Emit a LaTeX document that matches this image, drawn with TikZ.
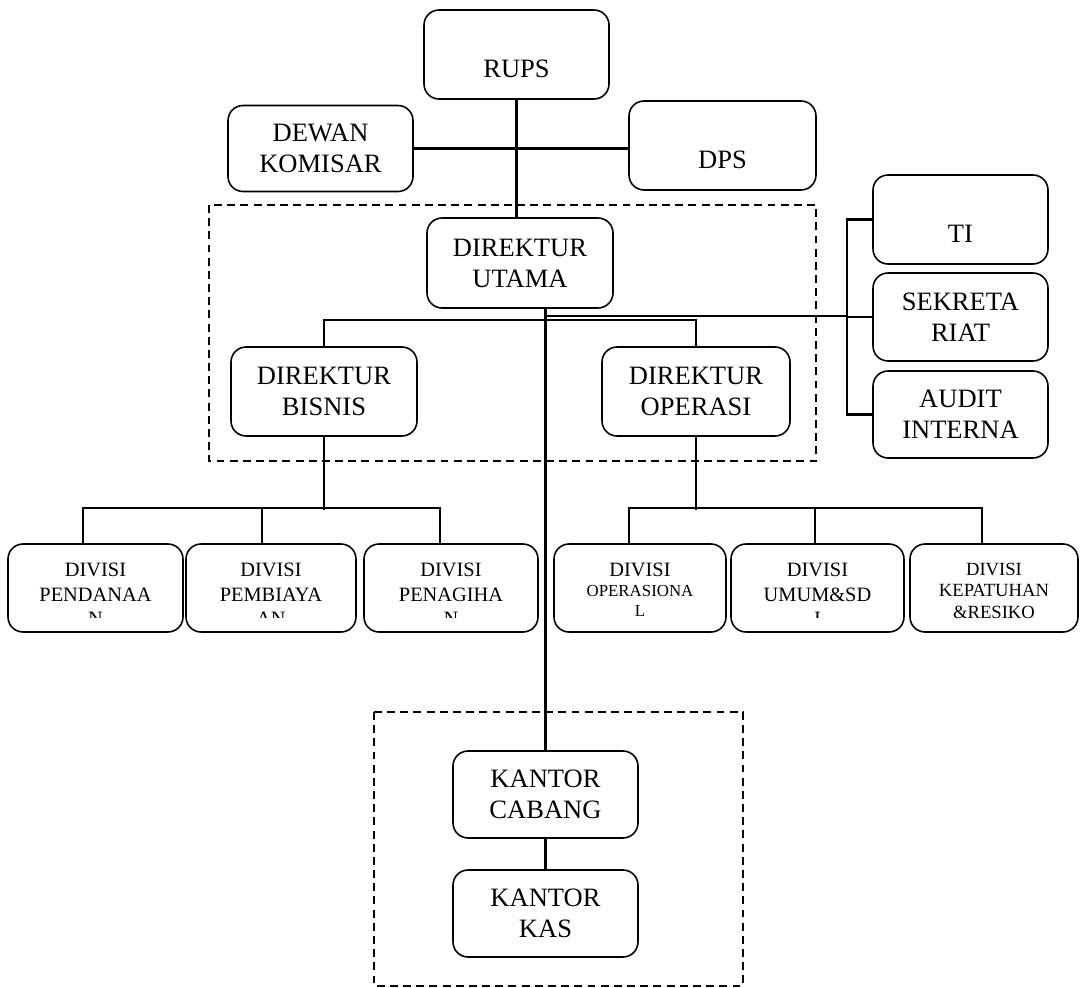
\documentclass[tikz,border=0pt]{standalone}
\usepackage{fontspec}
\setmainfont{Liberation Serif}
\newcommand{\orgfont}{\fontsize{15.1}{17.6}\selectfont}
\newcommand{\divfont}{\fontsize{11.6}{14.2}\selectfont}
\newcommand{\divsmall}{\fontsize{9.6}{11.4}\selectfont}
\newcommand{\kepfont}{\fontsize{10.6}{12}\selectfont}
\begin{document}
\begin{tikzpicture}[x=0.02cm, y=-0.02cm,
    kotak/.style={draw, rounded corners=0.3cm, line width=0.9pt, align=center, font=\orgfont, inner sep=0pt},
    satu/.style={text height=0.9cm, text depth=0pt},
    divkotak/.style={draw, rounded corners=0.3cm, line width=0.9pt, minimum height=1.76cm, inner sep=0pt},
    divteks/.style={anchor=north, align=center, inner sep=0pt, font=\divfont},
    garis/.style={line width=1.4pt},
    grup/.style={line width=0.9pt, dash pattern=on 4.5pt off 3pt}]
    \useasboundingbox (0,0) rectangle (1080,988);
    % --- pengurus atas ---
    \node[kotak, satu, minimum width=3.7cm, minimum height=1.78cm] (rups) at (516.5,54.5) {RUPS};
    \node[kotak, minimum width=3.7cm, minimum height=1.72cm] (dewan) at (320.5,148.5) {DEWAN\\KOMISAR};
    \node[kotak, satu, minimum width=3.74cm, minimum height=1.78cm] (dps) at (722.5,145.5) {DPS};
    % --- direksi ---
    \draw[grup] (209,205) rectangle (816,461);
    \node[kotak, minimum width=3.72cm, minimum height=1.8cm] (du) at (520,263) {DIREKTUR\\UTAMA};
    \node[kotak, minimum width=3.72cm, minimum height=1.78cm] (db) at (324,391.5) {DIREKTUR\\BISNIS};
    \node[kotak, minimum width=3.76cm, minimum height=1.78cm] (do) at (696,391.5) {DIREKTUR\\OPERASI};
    % --- staf ---
    \node[kotak, satu, minimum width=3.5cm, minimum height=1.78cm] (ti) at (960.5,219.5) {TI};
    \node[kotak, minimum width=3.5cm, minimum height=1.76cm] (se) at (960.5,317) {SEKRETA\\RIAT};
    \node[kotak, minimum width=3.5cm, minimum height=1.74cm] (au) at (960.5,414.5) {AUDIT\\INTERNA};
    \coordinate (brk) at (847,316);
    % --- divisi ---
    \node[divkotak, minimum width=3.5cm] (dv1) at (95.5,588) {};
    \node[divkotak, minimum width=3.4cm] (dv2) at (271,588) {};
    \node[divkotak, minimum width=3.48cm] (dv3) at (451,588) {};
    \node[divkotak, minimum width=3.44cm] (dv4) at (640,588) {};
    \node[divkotak, minimum width=3.46cm] (dv5) at (817.5,588) {};
    \node[divkotak, minimum width=3.36cm] (dv6) at (994,588) {};
    % teks divisi terpotong di bawah
    \begin{scope}
        \clip (dv1.north west) rectangle ([yshift=0.3cm]dv1.south east);
        \node[divteks] (dv1t) at ([yshift=-0.38cm]dv1.north) {DIVISI\\PENDANAA\\N};
    \end{scope}
    \begin{scope}
        \clip (dv2.north west) rectangle ([yshift=0.3cm]dv2.south east);
        \node[divteks] (dv2t) at ([yshift=-0.38cm]dv2.north) {DIVISI\\PEMBIAYA\\AN};
    \end{scope}
    \begin{scope}
        \clip (dv3.north west) rectangle ([yshift=0.3cm]dv3.south east);
        \node[divteks] (dv3t) at ([yshift=-0.38cm]dv3.north) {DIVISI\\PENAGIHA\\N};
    \end{scope}
    \node[divteks, font=\divsmall] (dv4t) at ([yshift=-0.38cm]dv4.north) {{\divfont DIVISI}\\OPERASIONA\\L};
    \begin{scope}
        \clip (dv5.north west) rectangle ([yshift=0.3cm]dv5.south east);
        \node[divteks] (dv5t) at ([yshift=-0.38cm]dv5.north) {DIVISI\\UMUM\&SD\\I};
    \end{scope}
    \node[divteks, font=\kepfont] (dv6t) at ([yshift=-0.4cm]dv6.north) {DIVISI\\KEPATUHAN\\\&RESIKO};
    % --- kantor ---
    \draw[grup] (374,712) rectangle (743,986);
    \node[kotak, minimum width=3.7cm, minimum height=1.74cm] (kc) at (545.5,794.5) {KANTOR\\CABANG};
    \node[kotak, minimum width=3.7cm, minimum height=1.74cm] (kk) at (545.5,913.5) {KANTOR\\KAS};
    % --- garis hubung ---
    \draw[garis] (rups.south) -- (rups.south |- du.north);
    \draw[garis] (dewan.east) -- (dewan.east -| dps.west);
    \draw[garis] (du.south -| kc.north) -- (kc.north);
    \draw[garis] (kc.south) -- (kk.north);
    \draw[garis] (kc.north |- brk) -- (brk);
    \draw[garis] (ti.west) -- (ti.west -| brk) -- (au.west -| brk) -- (au.west);
    \draw[garis] (se.west -| brk) -- (se.west);
    \draw[garis] (db.north) -- ++(0,-26) -| (do.north);
    \draw[garis] (db.south) -- ++(0,73);
    \draw[garis] ([xshift=-0.25cm]dv1.north) -- ++(0,-35) -| ([xshift=-0.22cm]dv3.north);
    \draw[garis] ([xshift=-0.18cm]dv2.north) -- ++(0,-35);
    \draw[garis] (do.south) -- ++(0,73);
    \draw[garis] ([xshift=-0.22cm]dv4.north) -- ++(0,-35) -| ([xshift=-0.24cm]dv6.north);
    \draw[garis] ([xshift=-0.05cm]dv5.north) -- ++(0,-35);
\end{tikzpicture}
\end{document}
